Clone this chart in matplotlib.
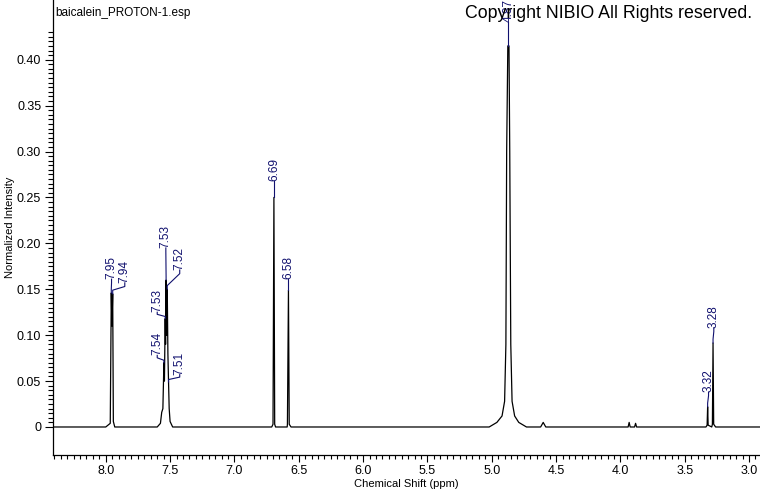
"""
1H NMR spectrum of baicalein, redrawn with matplotlib
"""

import matplotlib
matplotlib.use('agg')
import matplotlib.pyplot as plt
from matplotlib.ticker import FixedLocator, FuncFormatter

# spectrum trace (ppm, normalized intensity)
shift = [8.41, 8.00, 7.965, 7.957, 7.952, 7.946, 7.941, 7.93,
         7.60, 7.575, 7.565, 7.556, 7.548, 7.544, 7.538, 7.535, 7.531,
         7.527, 7.522, 7.517, 7.512, 7.507, 7.50, 7.48,
         6.71, 6.700, 6.693, 6.687, 6.68,
         6.59, 6.588, 6.580, 6.574, 6.56,
         5.02, 4.96, 4.92, 4.90, 4.89, 4.884, 4.875, 4.866, 4.860, 4.852,
         4.842, 4.822, 4.79, 4.73,
         4.62, 4.60, 4.58,
         3.94, 3.932, 3.924, 3.89, 3.882, 3.874,
         3.335, 3.326, 3.322, 3.318, 3.29, 3.285, 3.280, 3.275, 3.26,
         2.915]
intensity = [0.0, 0.0, 0.004, 0.146, 0.11, 0.145, 0.006, 0.0,
             0.0, 0.004, 0.016, 0.02, 0.07, 0.05, 0.118, 0.09, 0.160,
             0.10, 0.150, 0.08, 0.049, 0.02, 0.006, 0.0,
             0.0, 0.003, 0.250, 0.003, 0.0,
             0.0, 0.003, 0.149, 0.003, 0.0,
             0.0, 0.005, 0.012, 0.028, 0.09, 0.30, 0.415, 0.415, 0.30, 0.09,
             0.028, 0.012, 0.005, 0.0,
             0.0, 0.005, 0.0,
             0.0, 0.005, 0.0, 0.0, 0.004, 0.0,
             0.0, 0.002, 0.022, 0.002, 0.0, 0.003, 0.0915, 0.003, 0.0,
             0.0]

# peak labels: text, peak ppm, peak height, label ppm, label bottom
peak_text = ["7.95", "7.94", "7.54", "7.53", "7.53", "7.52", "7.51",
             "6.69", "6.58", "4.87", "3.32", "3.28"]
peak_ppm = [7.957, 7.946, 7.548, 7.538, 7.531, 7.522, 7.512,
            6.693, 6.580, 4.870, 3.322, 3.280]
peak_height = [0.146, 0.145, 0.070, 0.118, 0.160, 0.150, 0.049,
               0.250, 0.149, 0.415, 0.022, 0.0915]
label_ppm = [7.955, 7.852, 7.600, 7.600, 7.533, 7.425, 7.425,
             6.693, 6.580, 4.870, 3.315, 3.274]
label_y = [0.161, 0.157, 0.078, 0.125, 0.195, 0.171, 0.057,
           0.268, 0.161, 0.441, 0.038, 0.108]

# axis ticks
x_major = [8.0, 7.5, 7.0, 6.5, 6.0, 5.5, 5.0, 4.5, 4.0, 3.5, 3.0]
y_major = [0, 0.05, 0.10, 0.15, 0.20, 0.25, 0.30, 0.35, 0.40]

FONT = ['Liberation Sans', 'DejaVu Sans']
NAVY = '#10106e'

plt.rcParams['font.family'] = FONT

figure = plt.figure(figsize=(7.6, 4.92), dpi=100)
axes = figure.add_axes([53 / 760, 37 / 492, 707 / 760, 455 / 492])

axes.plot(shift, intensity, color='black', linewidth=0.9)

for text, px, py, tx, ty in zip(peak_text, peak_ppm, peak_height,
                                label_ppm, label_y):
    knee = min(0.004, (ty - py) / 3)
    axes.plot([px, px, tx, tx], [py, py + knee, ty - knee, ty],
              color=NAVY, linewidth=0.8)
    axes.text(tx, ty, text, rotation=90, ha='center', va='bottom',
              fontsize=8.5, color=NAVY)

axes.set_xlim(8.41, 2.915)
axes.set_ylim(-0.0305, 0.465)

x_minor = [round(2.95 + 0.05 * i, 2) for i in range(110)]
y_minor = [round(0.005 * i, 3) for i in range(87)]
axes.xaxis.set_major_locator(FixedLocator(x_major))
axes.xaxis.set_minor_locator(FixedLocator(x_minor))
axes.xaxis.set_major_formatter(FuncFormatter(lambda v, p: "%.1f" % v))
axes.yaxis.set_major_locator(FixedLocator(y_major))
axes.yaxis.set_minor_locator(FixedLocator(y_minor))
axes.yaxis.set_major_formatter(
    FuncFormatter(lambda v, p: "0" if abs(v) < 1e-9 else "%.2f" % v))

axes.tick_params(axis='both', which='major', labelsize=9, direction='out',
                 width=0.8, pad=2.5)
axes.tick_params(axis='x', which='major', length=5)
axes.tick_params(axis='x', which='minor', length=3, width=0.8)
axes.tick_params(axis='y', which='major', length=6)
axes.tick_params(axis='y', which='minor', length=3.5, width=0.8)

for side in ('top', 'right'):
    axes.spines[side].set_visible(False)
for side in ('left', 'bottom'):
    axes.spines[side].set_linewidth(0.9)

axes.set_xlabel("Chemical Shift (ppm)", fontsize=8, labelpad=1)
axes.set_ylabel("Normalized Intensity", fontsize=8, labelpad=1)

figure.text(55 / 760, 1 - 13 / 492, "baicalein_PROTON-1.esp", fontsize=8.5,
            ha='left', va='center')
figure.text(752 / 760, 1 - 14 / 492, "Copyright NIBIO All Rights reserved.",
            fontsize=12.8, ha='right', va='center', zorder=10)

figure.savefig("out.png", dpi=100)
